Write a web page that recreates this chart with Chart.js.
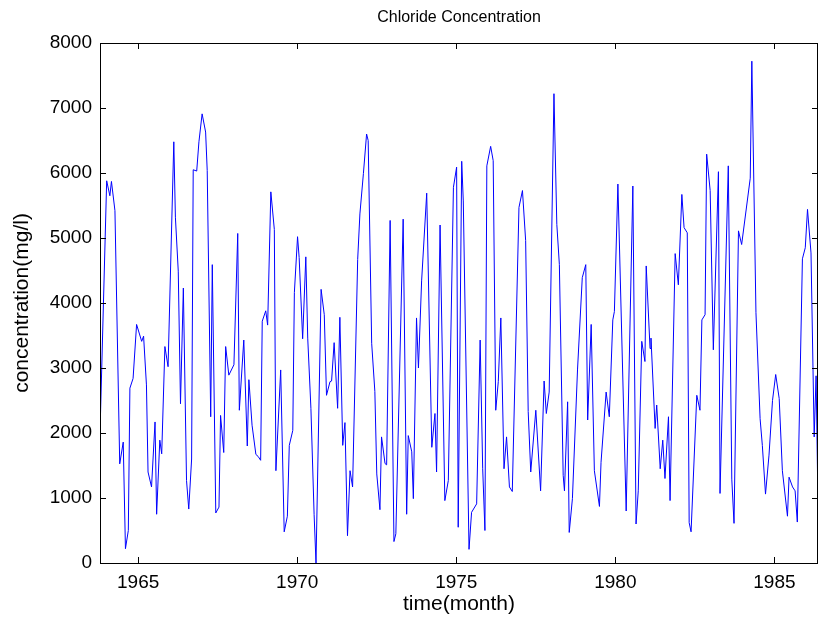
<!DOCTYPE html>
<html><head><meta charset="utf-8">
<script src="https://cdn.jsdelivr.net/npm/chart.js@4"></script>
<style>html,body{margin:0;padding:0;background:#fff}#wrap{width:820px;height:623px}</style>
</head><body><div id="wrap"><canvas id="c" width="820" height="623"></canvas></div>
<script>
const titleText = 'Chloride Concentration';
const xLabel = 'time(month)';
const yLabel = 'concentration(mg/l)';
const xTicks = [1965, 1970, 1975, 1980, 1985];
const yTicks = [0, 1000, 2000, 3000, 4000, 5000, 6000, 7000, 8000];
const xMin = 1963.80, xMax = 1986.37;

const times = [
1963.80,1964.01,1964.11,1964.16,1964.27,1964.42,1964.53,1964.60,1964.69,1964.74,1964.84,1964.95,
1965.11,1965.17,1965.26,1965.31,1965.42,1965.53,1965.58,1965.68,1965.74,1965.84,1965.94,
1966.12,1966.17,1966.26,1966.33,1966.42,1966.52,1966.59,1966.68,1966.73,1966.84,1966.91,
1967.01,1967.12,1967.17,1967.28,1967.33,1967.44,1967.54,1967.59,1967.69,1967.75,1967.85,
1968.01,1968.13,1968.18,1968.32,1968.43,1968.48,1968.58,1968.70,1968.77,1968.85,1968.90,
1969.01,1969.07,1969.17,1969.28,1969.33,1969.48,1969.59,1969.69,1969.75,1969.86,1969.91,
1970.01,1970.06,1970.17,1970.27,1970.33,1970.43,1970.53,1970.59,1970.75,1970.85,1970.92,
1971.03,1971.08,1971.16,1971.27,1971.34,1971.43,1971.50,1971.58,1971.66,1971.74,1971.90,1971.97,
1972.08,1972.18,1972.23,1972.34,1972.44,1972.50,1972.60,1972.65,1972.76,1972.81,1972.92,
1973.04,1973.10,1973.33,1973.44,1973.49,1973.60,1973.65,1973.75,1973.81,1973.91,
1974.07,1974.23,1974.33,1974.38,1974.49,1974.64,1974.75,1974.91,
1975.01,1975.06,1975.17,1975.22,1975.40,1975.48,1975.64,1975.75,1975.83,1975.90,1975.96,
1976.08,1976.16,1976.24,1976.32,1976.40,1976.50,1976.58,1976.67,1976.76,1976.97,
1977.08,1977.18,1977.26,1977.34,1977.50,1977.65,1977.76,1977.83,1977.92,
1978.07,1978.16,1978.24,1978.36,1978.40,1978.50,1978.55,1978.65,1978.81,1978.96,
1979.07,1979.13,1979.24,1979.34,1979.50,1979.55,1979.71,1979.81,1979.92,1979.97,
1980.08,1980.34,1980.55,1980.65,1980.72,1980.83,1980.93,1980.97,
1981.09,1981.12,1981.25,1981.30,1981.41,1981.49,1981.56,1981.67,1981.72,1981.88,1981.98,
1982.09,1982.16,1982.26,1982.32,1982.38,1982.56,1982.66,1982.72,1982.82,1982.87,1982.98,
1983.08,1983.24,1983.29,1983.55,1983.66,1983.73,1983.87,1983.97,
1984.24,1984.29,1984.42,1984.55,1984.62,1984.72,1984.83,1984.94,
1985.04,1985.15,1985.25,1985.41,1985.46,1985.57,1985.65,1985.72,1985.88,1985.97,
1986.04,1986.15,1986.25,1986.31,1986.37
];
const values = [
2000,5880,5650,5870,5420,1525,1860,220,500,2690,2840,3670,
3410,3490,2740,1400,1170,2170,750,1890,1680,3330,3020,
6480,5320,4490,2450,4230,1270,830,1600,6050,6030,6480,
6910,6630,6040,2250,4590,770,860,2270,1700,3330,2890,
3050,5070,2350,3430,1800,2820,2120,1670,1640,1580,3720,
3880,3660,5710,5130,1420,2970,480,720,1810,2040,4160,
5020,4700,3450,4710,3460,2380,750,0,4210,3820,2580,
2790,2800,3390,2380,3780,1810,2160,420,1420,1170,4670,5370,
5990,6600,6500,3380,2640,1370,820,1940,1530,1510,5270,
330,450,5290,750,1960,1710,990,3770,3000,4340,
5690,1780,2300,1400,5200,960,1270,5780,
6090,550,6180,5570,210,780,910,3430,1450,500,6110,
6410,6190,2350,2790,3770,1450,1940,1170,1100,5470,
5730,4960,2330,1400,2350,1110,2800,2300,2630,
7220,5210,4590,1350,1110,2480,470,990,2970,4390,
4590,2200,3670,1420,870,1550,2630,2250,3740,3870,
5830,800,5800,600,1110,3410,3100,4570,
3300,3460,2070,2430,1450,1890,1300,2250,960,4760,4280,
5670,5160,5080,620,480,2580,2350,3740,3820,6290,5730,
3280,6020,1070,6110,1290,610,5110,4900,
5920,7720,3850,2220,1810,1060,1660,2500,
2900,2530,1420,720,1320,1170,1110,630,4680,4850,
5440,4770,1940,2880,860
];

const FONT = "'Liberation Sans', Arial, Helvetica, sans-serif";

const framePlugin = {
  id: 'frame',
  afterDatasetsDraw(chart) {
    const {ctx, chartArea: a, scales: {x, y}} = chart;
    ctx.save();
    ctx.strokeStyle = '#000';
    ctx.lineWidth = 1;
    ctx.beginPath();
    ctx.rect(Math.round(a.left) + 0.5, Math.round(a.top) + 0.5,
             Math.round(a.right - a.left) - 1, Math.round(a.bottom - a.top));
    const L = 6;
    xTicks.forEach(v => {
      const px = Math.round(x.getPixelForValue(v)) + 0.5;
      ctx.moveTo(px, a.bottom); ctx.lineTo(px, a.bottom - L);
      ctx.moveTo(px, a.top); ctx.lineTo(px, a.top + L);
    });
    yTicks.forEach(v => {
      const py = Math.round(y.getPixelForValue(v)) + 0.5;
      ctx.moveTo(a.left, py); ctx.lineTo(a.left + L, py);
      ctx.moveTo(a.right, py); ctx.lineTo(a.right - L, py);
    });
    ctx.stroke();
    ctx.restore();
  }
};

new Chart(document.getElementById('c'), {
  type: 'line',
  data: {
    datasets: [{
      data: times.map((t, i) => ({x: t, y: values[i]})),
      borderColor: '#0000ff',
      borderWidth: 1,
      pointRadius: 0,
      tension: 0,
      fill: false
    }]
  },
  options: {
    responsive: false,
    devicePixelRatio: 1,
    animation: false,
    layout: {padding: {left: 0, right: 2, top: 0, bottom: 0}},
    plugins: {
      legend: {display: false},
      tooltip: {enabled: false},
      title: {
        display: true, text: titleText, color: '#000', fullSize: false,
        font: {family: FONT, size: 16, weight: 'normal', lineHeight: 1.2},
        padding: {top: 8, bottom: 15.8}
      }
    },
    scales: {
      x: {
        type: 'linear', min: xMin, max: xMax,
        afterBuildTicks: s => { s.ticks = xTicks.map(v => ({value: v})); },
        afterFit: s => { s.height = 60; },
        grid: {display: false, drawTicks: false},
        border: {display: false},
        ticks: {color: '#000', padding: 8, font: {family: FONT, size: 19}, maxRotation: 0,
                callback: v => String(v)},
        title: {display: true, text: xLabel, color: '#000',
                font: {family: FONT, size: 21}, padding: {top: 0, bottom: 6}}
      },
      y: {
        min: 0, max: 8000,
        afterBuildTicks: s => { s.ticks = yTicks.map(v => ({value: v})); },
        afterFit: s => { s.width = 100; },
        grid: {display: false, drawTicks: false},
        border: {display: false},
        ticks: {color: '#000', padding: 8, font: {family: FONT, size: 19},
                callback: v => String(v)},
        title: {display: true, text: yLabel, color: '#000',
                font: {family: FONT, size: 21}, padding: {top: 10, bottom: 0}}
      }
    }
  },
  plugins: [framePlugin]
});
</script>
</body></html>
